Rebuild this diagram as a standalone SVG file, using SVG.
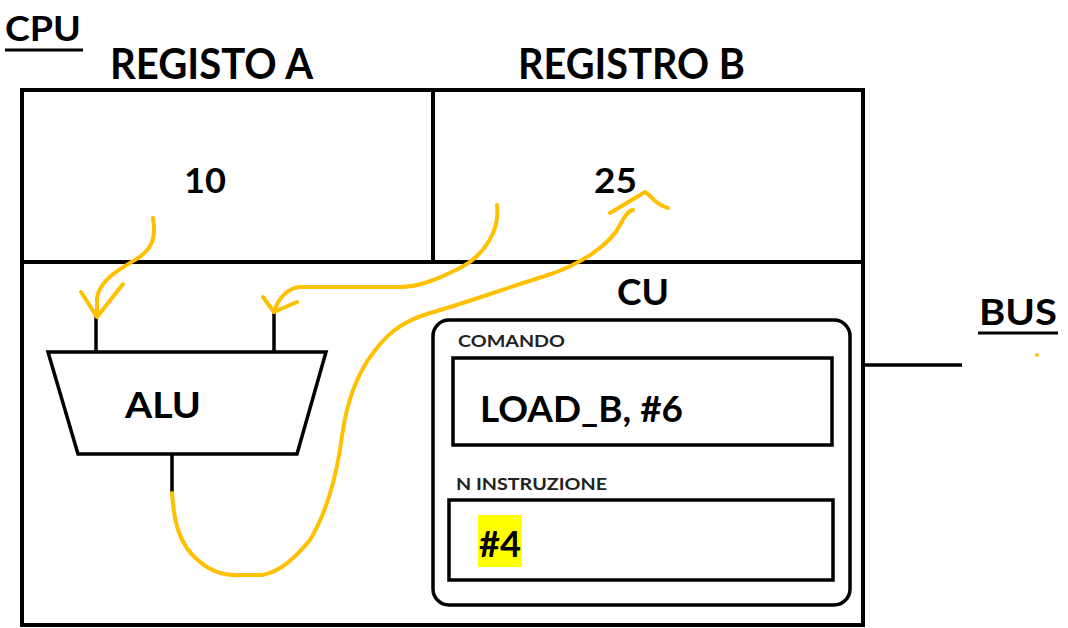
<svg xmlns="http://www.w3.org/2000/svg" width="1068" height="628" viewBox="0 0 1068 628">
  <style>
    .t { font-family: Lato, "Open Sans", "Liberation Sans", sans-serif; font-weight: bold; fill: #000; }
    .lbl { font-family: Lato, "Open Sans", "Liberation Sans", sans-serif; font-weight: bold; fill: #222; }
    .frame { fill: none; stroke: #000; stroke-width: 4; }
    .thin { fill: none; stroke: #000; stroke-width: 3.5; }
    .ink { fill: none; stroke: #FFC000; stroke-width: 4; stroke-linecap: round; stroke-linejoin: round; }
  </style>
  <rect width="1068" height="628" fill="#fff"/>

  <!-- CPU title -->
  <g id="cpu-title">
    <text class="t" x="5" y="41" font-size="34" textLength="76" lengthAdjust="spacingAndGlyphs">CPU</text>
    <line x1="5" y1="50" x2="83" y2="50" stroke="#000" stroke-width="3"/>
  </g>

  <!-- CPU frame with register row -->
  <g id="cpu-frame">
    <rect class="frame" x="22" y="90" width="841" height="535"/>
    <line class="frame" x1="22" y1="262" x2="863" y2="262"/>
    <line class="frame" x1="433" y1="90" x2="433" y2="262"/>
  </g>

  <g id="registro-a">
    <text class="t" x="110" y="79" font-size="42" textLength="203" lengthAdjust="spacingAndGlyphs">REGISTO A</text>
    <text class="t" x="184" y="193" font-size="35" textLength="42" lengthAdjust="spacingAndGlyphs">10</text>
  </g>

  <g id="registro-b">
    <text class="t" x="518" y="79" font-size="42" textLength="227" lengthAdjust="spacingAndGlyphs">REGISTRO B</text>
    <text class="t" x="594" y="193" font-size="35" textLength="43" lengthAdjust="spacingAndGlyphs">25</text>
  </g>

  <!-- ALU -->
  <g id="alu">
    <polygon class="thin" points="48,352 326,352 297,454 78,454"/>
    <line class="thin" x1="96" y1="316" x2="96" y2="352"/>
    <line class="thin" x1="274" y1="313" x2="274" y2="352"/>
    <line class="thin" x1="172" y1="454" x2="172" y2="493"/>
    <text class="t" x="163" y="418" font-size="37" text-anchor="middle" textLength="76" lengthAdjust="spacingAndGlyphs">ALU</text>
  </g>

  <!-- Control unit -->
  <g id="cu">
    <text class="t" x="643" y="305" font-size="37" text-anchor="middle" textLength="52" lengthAdjust="spacingAndGlyphs">CU</text>
    <rect class="thin" x="433" y="320" width="417" height="285" rx="16"/>
    <text class="lbl" x="458" y="347" font-size="17" textLength="107" lengthAdjust="spacingAndGlyphs">COMANDO</text>
    <rect class="thin" x="453" y="358" width="379" height="87"/>
    <text class="t" x="480" y="422" font-size="37" textLength="203" lengthAdjust="spacingAndGlyphs">LOAD_B, #6</text>
    <text class="lbl" x="456" y="490" font-size="17" textLength="151" lengthAdjust="spacingAndGlyphs">N INSTRUZIONE</text>
    <rect class="thin" x="449" y="500" width="384" height="80"/>
    <rect x="478" y="515" width="44" height="52" fill="#FFFF00"/>
    <text class="t" x="479" y="557" font-size="37" textLength="42" lengthAdjust="spacingAndGlyphs">#4</text>
  </g>

  <!-- Bus -->
  <g id="bus">
    <line x1="863" y1="365" x2="962" y2="365" stroke="#000" stroke-width="3.5"/>
    <text class="t" x="979" y="325" font-size="36" textLength="78" lengthAdjust="spacingAndGlyphs">BUS</text>
    <line x1="978" y1="333" x2="1058" y2="333" stroke="#000" stroke-width="3"/>
    <circle cx="1037" cy="355" r="2" fill="#FFC000"/>
  </g>

  <!-- Hand-drawn data paths -->
  <g id="connectors">
    <path class="ink" d="M153,218 C157,240 150,250 138,258 C118,270 100,280 97,298 L97,317"/>
    <path class="ink" d="M81,292 L97,317 L123,284"/>
    <path class="ink" d="M497,205 C500,230 485,255 460,268 C440,278 420,287 400,287 L300,287 C288,288 278,298 274,312"/>
    <path class="ink" d="M263,297 L274,312 L297,302"/>
    <path class="ink" d="M172,493 C174,520 178,545 200,562 C212,572 225,576 240,575 L262,575 C280,572 295,558 310,540 C325,515 335,480 340,450 C345,410 352,385 368,360 C385,335 400,322 430,313 C460,305 500,290 545,276 C580,265 610,245 620,225 C625,215 630,210 633,210"/>
    <path class="ink" d="M610,213 L645,192 C652,196 655,205 668,208"/>
  </g>
</svg>
